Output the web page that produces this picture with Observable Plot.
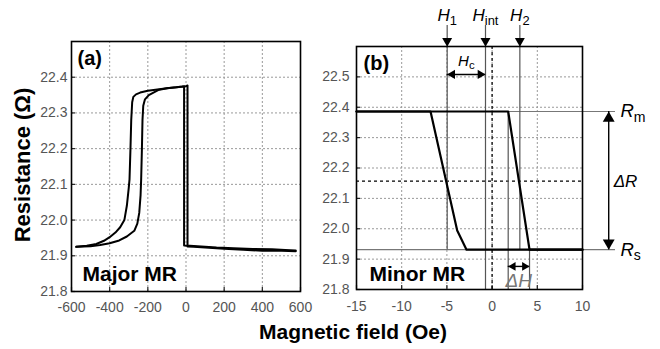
<!DOCTYPE html>
<html><head><meta charset="utf-8">
<script src="https://cdn.jsdelivr.net/npm/d3@7"></script>
<script src="https://cdn.jsdelivr.net/npm/@observablehq/plot@0.6"></script>
<style>
body{margin:0;background:#fff;}
#root{position:relative;width:660px;height:349px;background:#fff;font-family:"Liberation Sans",Arial,sans-serif;overflow:hidden}
#pa{position:absolute;left:0;top:0;width:310px}
#pb{position:absolute;left:300px;top:0;width:360px}
#xlabel{position:absolute;left:353px;top:331px;transform:translate(-50%,-50%);font-weight:bold;font-size:21px;line-height:1;white-space:nowrap;color:#000}
#ylabel{position:absolute;left:23px;top:165px;transform:translate(-50%,-50%) rotate(-90deg);font-weight:bold;font-size:22px;line-height:1;white-space:nowrap;color:#000}
</style></head>
<body>
<div id="root">
  <div id="pa"></div>
  <div id="pb"></div>
  <div id="xlabel">Magnetic field (Oe)</div>
  <div id="ylabel">Resistance (Ω)</div>
</div>
<script>
// ---------- Panel (a): major MR loop ----------
const xTicksA = [-600, -400, -200, 0, 200, 400, 600];
const yTicksA = [21.8, 21.9, 22.0, 22.1, 22.2, 22.3, 22.4];
const xGridA = [-400, -200, 0, 200, 400];
const yGridA = [21.9, 22.0, 22.1, 22.2, 22.3, 22.4];
const xDomainA = [-600, 600];
const yDomainA = [21.8, 22.5];
const majorH1 = [-575,-520,-470,-430,-400,-370,-345,-323,-310,-300,-296,-291,-287,-282,-276,-262,-240,-200,-160,-130,-90,-50,-20,-10,-10,20,80,160,250,350,450,520,575];
const majorR1 = [21.925,21.928,21.933,21.942,21.952,21.965,21.980,22.000,22.040,22.090,22.114,22.200,22.280,22.330,22.345,22.352,22.357,22.362,22.365,22.367,22.370,22.372,22.374,22.375,21.929,21.928,21.926,21.923,21.921,21.919,21.918,21.916,21.915];
const majorH2 = [-575,-500,-450,-400,-350,-310,-271,-255,-245,-238,-235,-231,-228,-224,-215,-195,-146,-100,-50,-10,0,8,8,40,100,200,300,400,500,575];
const majorR2 = [21.925,21.927,21.930,21.935,21.943,21.954,21.970,21.990,22.020,22.070,22.114,22.200,22.280,22.320,22.338,22.350,22.364,22.369,22.372,22.374,22.375,22.377,21.926,21.925,21.923,21.920,21.917,21.914,21.914,21.913];

// ---------- Panel (b): minor MR loop ----------
const xTicksB = [-15, -10, -5, 0, 5, 10];
const yTicksB = [21.8, 21.9, 22.0, 22.1, 22.2, 22.3, 22.4, 22.5];
const xGridB = [-10, -5, 0, 5];
const yGridB = [21.9, 22.0, 22.1, 22.2, 22.3, 22.4, 22.5];
const xDomainB = [-15, 10];
const yDomainB = [21.8, 22.6];
const minorH1 = [-15, -6.81, -3.86, -2.83, 10];
const minorR1 = [22.386, 22.386, 21.994, 21.931, 21.931];
const minorH2 = [-15, 1.78, 4.14, 10];
const minorR2 = [22.386, 22.386, 21.931, 21.931];
const Rm = 22.386, Rs = 21.931, Rhalf = 22.157;
const levelLabels = ["R_m", "R_s"];
const levelValues = [Rm, Rs];
const levelEnd = 13.65;               // right end of Rm / Rs reference lines (Oe)
const markerNames = ["H_1", "H_int", "H_2"];
const markerFields = [-4.97, -0.73, 3.07];
const markerEnds = [Rs, 21.8, Rs];
const hcRange = [-4.97, -0.73], hcLevel = 22.508;
const dhRange = [1.78, 4.14], dhLevel = 21.876;
const dhLineTops = [Rm, Rs];
const drField = 12.9;

const zip = (xs, ys) => xs.map((x, i) => ({H: x, R: ys[i]}));
const fontFam = '"Liberation Sans", Arial, sans-serif';

function addSubscripts(svg) {
  const ns = "http://www.w3.org/2000/svg";
  svg.querySelectorAll("text").forEach(t => {
    if (t.querySelector("tspan")) return;
    const s = t.textContent, i = s.indexOf("_");
    if (i < 0) return;
    t.textContent = "";
    const a = document.createElementNS(ns, "tspan");
    a.textContent = s.slice(0, i);
    const b = document.createElementNS(ns, "tspan");
    b.textContent = s.slice(i + 1);
    b.setAttribute("font-style", "normal");
    b.setAttribute("font-size", "0.76em");
    b.setAttribute("dy", "0.3em");
    t.append(a, b);
  });
}

const gridStyle = {stroke: "#999999", strokeWidth: 1, strokeDasharray: "2,2"};
const tickStyle = {stroke: "#222222", strokeWidth: 1.2};

// inward tick marks: full-frame ticks shrunk to 4px at the bottom / left edge
function innerTicks(xTicks, yTicks, frameW, frameH) {
  return [
    Plot.tickX(xTicks, {x: d => d, insetTop: frameH - 4, ...tickStyle}),
    Plot.tickY(yTicks, {y: d => d, insetRight: frameW - 4, ...tickStyle})
  ];
}

const plotA = Plot.plot({
  width: 310, height: 315,
  marginLeft: 71, marginRight: 10, marginTop: 41, marginBottom: 24,
  style: {fontFamily: fontFam, fontSize: "14px", color: "#555", background: "transparent", overflow: "visible"},
  x: {domain: xDomainA, label: null},
  y: {domain: yDomainA, label: null},
  marks: [
    Plot.ruleX(xGridA, gridStyle),
    Plot.ruleY(yGridA, gridStyle),
    ...innerTicks(xTicksA, yTicksA, 229, 250),
    Plot.axisX(xTicksA, {tickSize: 0, tickPadding: 11, tickFormat: d => String(d), label: null}),
    Plot.axisY(yTicksA, {tickSize: 0, tickPadding: 4, tickFormat: d => d.toFixed(1), label: null}),
    Plot.line(zip(majorH1, majorR1), {x: "H", y: "R", stroke: "black", strokeWidth: 2}),
    Plot.line(zip(majorH2, majorR2), {x: "H", y: "R", stroke: "black", strokeWidth: 2}),
    Plot.frame({stroke: "black", strokeWidth: 1.6}),
    Plot.text(["(a)"], {frameAnchor: "top-left", textAnchor: "start", lineAnchor: "middle", dx: 6, dy: 16.6, fontSize: 20, fontWeight: "bold", fill: "black"}),
    Plot.text(["Major MR"], {frameAnchor: "bottom-left", textAnchor: "start", lineAnchor: "middle", dx: 11, dy: -17.7, fontSize: 21, fontWeight: "bold", fill: "black"})
  ]
});
document.getElementById("pa").append(plotA);

const markers = markerNames.map((n, i) => ({name: n, H: markerFields[i], end: markerEnds[i]}));
const levels = levelLabels.map((n, i) => ({name: n, R: levelValues[i]}));
const dhLines = dhRange.map((h, i) => ({H: h, top: dhLineTops[i]}));
const thin = "#555";

const plotB = Plot.plot({
  width: 360, height: 315,
  marginLeft: 56, marginRight: 78, marginTop: 46, marginBottom: 26,
  style: {fontFamily: fontFam, fontSize: "14px", color: "#555", background: "transparent", overflow: "visible"},
  x: {domain: xDomainB, label: null},
  y: {domain: yDomainB, label: null},
  marks: [
    Plot.ruleX(xGridB, gridStyle),
    Plot.ruleY(yGridB, gridStyle),
    ...innerTicks(xTicksB, yTicksB, 226, 243),
    Plot.axisX(xTicksB, {tickSize: 0, tickPadding: 12, tickFormat: d => String(d), label: null}),
    Plot.axisY(yTicksB, {tickSize: 0, tickPadding: 7, tickFormat: d => d.toFixed(1), label: null}),
    Plot.ruleY(levels, {y: "R", x1: xDomainB[0], x2: levelEnd, stroke: "#777", strokeWidth: 1.2}),
    Plot.ruleY([Rhalf], {stroke: "black", strokeDasharray: "3,3", strokeWidth: 1.2}),
    Plot.ruleX([0], {stroke: "black", strokeDasharray: "3,3", strokeWidth: 1.2}),
    Plot.ruleX(markers, {x: "H", y1: () => yDomainB[1], y2: "end", insetTop: -21, stroke: thin, strokeWidth: 1.2}),
    Plot.ruleX(dhLines, {x: "H", y1: "top", y2: () => yDomainB[0], stroke: thin, strokeWidth: 1.2}),
    Plot.line(zip(minorH1, minorR1), {x: "H", y: "R", stroke: "black", strokeWidth: 2.2}),
    Plot.line(zip(minorH2, minorR2), {x: "H", y: "R", stroke: "black", strokeWidth: 2.2}),
    Plot.frame({stroke: "black", strokeWidth: 1.6}),
    Plot.dot(markers, {x: "H", frameAnchor: "top", symbol: "triangle", rotate: 180, r: 3.7, fill: "black", stroke: null, dy: -5.6}),
    Plot.text(markers, {x: "H", text: "name", frameAnchor: "top", lineAnchor: "middle", textAnchor: "middle", dy: -31, fontSize: 17, fontStyle: "italic", fill: "black"}),
    Plot.ruleY([hcLevel], {x1: hcRange[0], x2: hcRange[1], stroke: "black", strokeWidth: 1.4}),
    Plot.dot([hcRange[0]], {x: d => d, y: () => hcLevel, symbol: "triangle", rotate: -90, r: 3.4, fill: "black", stroke: null, dx: 5.2}),
    Plot.dot([hcRange[1]], {x: d => d, y: () => hcLevel, symbol: "triangle", rotate: 90, r: 3.4, fill: "black", stroke: null, dx: -5.2}),
    Plot.text(["H_c"], {x: () => (hcRange[0] + hcRange[1]) / 2, y: () => hcLevel, textAnchor: "middle", lineAnchor: "middle", dy: -13.5, fontSize: 15, fontStyle: "italic", fill: "black"}),
    Plot.ruleY([dhLevel], {x1: dhRange[0], x2: dhRange[1], stroke: "black", strokeWidth: 1.4}),
    Plot.dot([dhRange[0]], {x: d => d, y: () => dhLevel, symbol: "triangle", rotate: -90, r: 3.2, fill: "black", stroke: null, dx: 4.9}),
    Plot.dot([dhRange[1]], {x: d => d, y: () => dhLevel, symbol: "triangle", rotate: 90, r: 3.2, fill: "black", stroke: null, dx: -4.9}),
    Plot.text(["ΔH"], {x: () => (dhRange[0] + dhRange[1]) / 2, y: () => yDomainB[0], textAnchor: "middle", lineAnchor: "middle", dy: -8.5, fontSize: 19, fontStyle: "italic", fill: "#777"}),
    Plot.ruleX([drField], {y1: Rm, y2: Rs, stroke: "black", strokeWidth: 1.4}),
    Plot.dot([Rm], {x: () => drField, y: d => d, symbol: "triangle", rotate: 0, r: 4.4, fill: "black", stroke: null, dy: 6.8}),
    Plot.dot([Rs], {x: () => drField, y: d => d, symbol: "triangle", rotate: 180, r: 4.4, fill: "black", stroke: null, dy: -6.8}),
    Plot.text(["ΔR"], {x: () => drField, y: () => Rhalf, textAnchor: "start", lineAnchor: "middle", dx: 5, fontSize: 17, fontStyle: "italic", fill: "black"}),
    Plot.text(levels, {x: () => levelEnd, y: "R", text: "name", textAnchor: "start", lineAnchor: "middle", dx: 5, fontSize: 18.5, fontStyle: "italic", fill: "black"}),
    Plot.text(["(b)"], {frameAnchor: "top-left", textAnchor: "start", lineAnchor: "middle", dx: 7, dy: 16.6, fontSize: 20, fontWeight: "bold", fill: "black"}),
    Plot.text(["Minor MR"], {frameAnchor: "bottom-left", textAnchor: "start", lineAnchor: "middle", dx: 13, dy: -15.7, fontSize: 21, fontWeight: "bold", fill: "black"})
  ]
});
addSubscripts(plotB);
document.getElementById("pb").append(plotB);
</script>
</body></html>
